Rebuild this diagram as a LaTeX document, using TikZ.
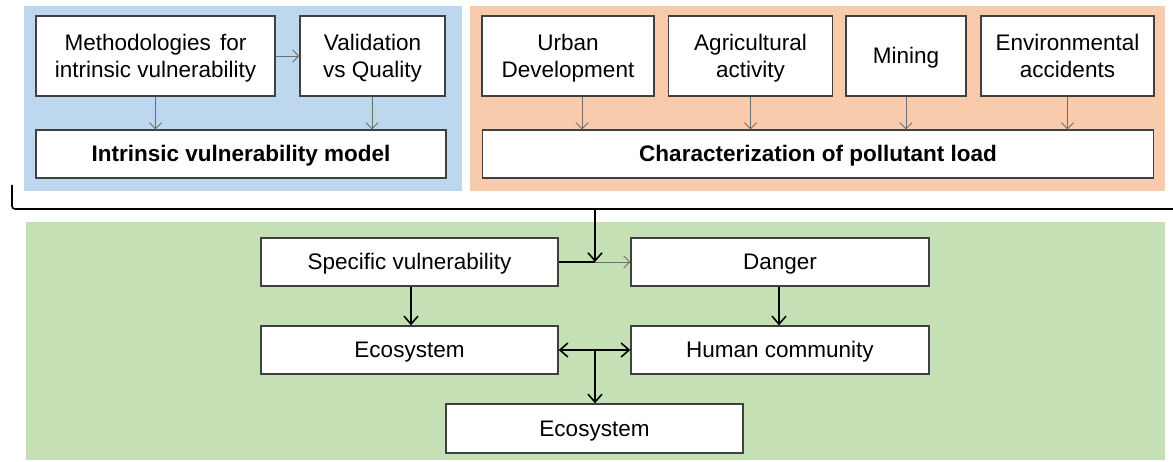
\documentclass[tikz,border=0pt]{standalone}
\usepackage{fontspec}
\setmainfont{Liberation Sans}
\usetikzlibrary{arrows.meta}
\definecolor{pblue}{HTML}{BDD7EE}
\definecolor{porange}{HTML}{F8CBAD}
\definecolor{pgreen}{HTML}{C5E0B4}
\definecolor{bord}{HTML}{404040}
\definecolor{garr}{HTML}{6E6E6E}
\begin{document}
\begin{tikzpicture}[x=1pt,y=-1pt,
  box/.style={draw=bord,line width=1.3pt,fill=white,align=center,inner sep=0pt,
    font=\fontsize{22.5}{27}\selectfont,text height=16pt,text depth=0pt},
  twobox/.style={box,text height=43pt,text depth=0pt},
  bbox/.style={box,font=\fontsize{22.5}{27}\selectfont\bfseries},
  thinarr/.style={draw=garr,line width=0.9pt,-{Straight Barb[length=6pt,width=12pt]}},
  thickarr/.style={draw=black,line width=1.8pt,-{Straight Barb[length=8pt,width=14pt,line width=1.6pt]}},
  thickline/.style={draw=black,line width=1.8pt}
]
\useasboundingbox (0,0) rectangle (1173,462);
% panels
\fill[pblue] (24,6) rectangle (462,191);
\fill[porange] (470,6) rectangle (1165,191);
\fill[pgreen] (26,222) rectangle (1165,460);
% top-left boxes
\node[twobox,minimum width=239pt,minimum height=80pt] (meth) at (155.5,56) {Methodologies\hspace{3pt} for\\intrinsic vulnerability};
\node[twobox,minimum width=145pt,minimum height=80pt] (valid) at (372.5,56) {Validation\\vs Quality};
\node[bbox,minimum width=410pt,minimum height=48pt] (ivm) at (241,154) {Intrinsic vulnerability model};
% top-right boxes
\node[twobox,minimum width=172pt,minimum height=80pt] (urban) at (568,56) {Urban\\Development};
\node[twobox,minimum width=164pt,minimum height=80pt] (agri) at (750.5,56) {Agricultural\\activity};
\node[box,minimum width=120pt,minimum height=80pt] (mining) at (906,56) {Mining};
\node[twobox,minimum width=173pt,minimum height=80pt] (env) at (1067.5,56) {Environmental\\accidents};
\node[bbox,minimum width=671pt,minimum height=48pt] (char) at (818,154) {Characterization of pollutant load};
% bottom boxes
\node[box,minimum width=297pt,minimum height=48pt] (spec) at (409.5,262) {Specific vulnerability};
\node[box,minimum width=298pt,minimum height=48pt] (danger) at (780,262) {Danger};
\node[box,minimum width=297pt,minimum height=48pt] (eco1) at (409.5,350) {Ecosystem};
\node[box,minimum width=298pt,minimum height=48pt] (human) at (780,350) {Human community};
\node[box,minimum width=297pt,minimum height=49pt] (eco2) at (594.5,428.5) {Ecosystem};
% top arrows
\draw[thinarr] (meth.east) -- (valid.west);
\draw[thinarr] (meth.south) -- (meth.south |- ivm.north);
\draw[thinarr] ([xshift=-0.5pt]valid.south) -- ([xshift=-0.5pt]valid.south |- ivm.north);
\draw[thinarr] ([xshift=14pt]urban.south) -- ([xshift=14pt]urban.south |- char.north);
\draw[thinarr] (agri.south) -- (agri.south |- char.north);
\draw[thinarr] (mining.south) -- (mining.south |- char.north);
\draw[thinarr] (env.south) -- (env.south |- char.north);
% bracket
\coordinate (bstart) at (12,185);
\coordinate (bend) at (1173,209);
\coordinate (bdrop) at (595,209);
\draw[line width=1.6pt,rounded corners=3pt] (bstart) -- (bstart |- bend) -- (bend);
% junction
\coordinate (junc) at (595,262);
\draw[thickarr] (bdrop) -- (junc);
\draw[thickline] (spec.east) -- (junc);
\draw[thinarr] (junc) -- (danger.west);
% vertical arrows
\draw[thickarr] ([xshift=1.5pt]spec.south) -- ([xshift=1.5pt]spec.south |- eco1.north);
\draw[thickarr] ([xshift=-1pt]danger.south) -- ([xshift=-1pt]danger.south |- human.north);
% double arrow and down
\coordinate (mid) at (595,350);
\draw[thickarr] (mid) -- (eco1.east);
\draw[thickarr] (mid) -- (human.west);
\draw[thickarr] (mid) -- (mid |- eco2.north);
\end{tikzpicture}
\end{document}
